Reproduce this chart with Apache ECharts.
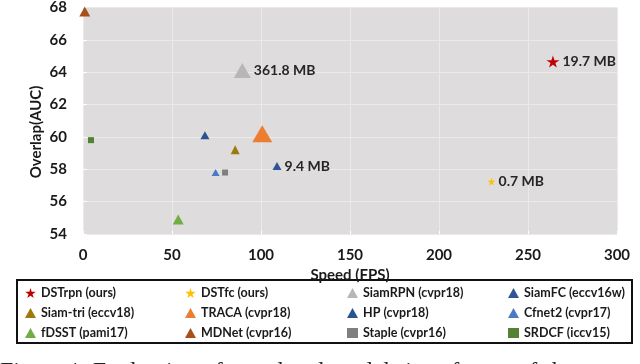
<!DOCTYPE html>
<html>
<head>
<meta charset="utf-8">
<script src="https://cdn.jsdelivr.net/npm/echarts@6/dist/echarts.min.js"></script>
<style>
  html, body { margin: 0; padding: 0; background: #fff; }
  #chart { width: 640px; height: 364px; }
</style>
</head>
<body>
<div id="chart"></div>
<script>
// trackers, speed (FPS), overlap (AUC), model size label
const methods = ['DSTrpn (ours)', 'DSTfc (ours)', 'SiamRPN (cvpr18)', 'SiamFC (eccv16w)',
  'Siam-tri (eccv18)', 'TRACA (cvpr18)', 'HP (cvpr18)', 'Cfnet2 (cvpr17)',
  'fDSST (pami17)', 'MDNet (cvpr16)', 'Staple (cvpr16)', 'SRDCF (iccv15)']
const speed = [264, 229.5, 89.5, 109, 85.5, 100.7, 68.5, 74.5, 53.5, 1, 79.8, 4.5]
const overlap = [64.66, 57.24, 64.1, 58.2, 59.2, 60.2, 60.1, 57.8, 54.9, 67.75, 57.8, 59.8]
const sizeLabels = ['19.7 MB', '0.7 MB', '361.8 MB', '9.4 MB', '', '', '', '', '', '', '', '']
const xTicks = [0, 50, 100, 150, 200, 250, 300]
const yTicks = [54, 56, 58, 60, 62, 64, 66, 68]

const STAR = 'path://M50,0 L61,35 L98,35 L68,57 L79,91 L50,70 L21,91 L32,57 L2,35 L39,35 Z'
// marker look per tracker
const symbols = [STAR, STAR, 'triangle', 'triangle', 'triangle', 'triangle', 'triangle', 'triangle',
  'triangle', 'triangle', 'rect', 'rect']
const sizes = [[13, 12], [8, 8], [17, 15], [9, 8], [9, 9], [20, 17], [9, 8], [8, 7], [11, 10], [11, 10], [6, 6], [6, 6]]
const colors = ['#c00000', '#ffc000', '#b7b7b7', '#2f5597', '#9c7a0e', '#ed7d31', '#2a5394', '#4a78c8',
  '#70ad47', '#a9501a', '#7f7f7f', '#548235']

const font = 'Lato, "Open Sans", sans-serif'

const series = methods.map(function(name, i) {
  return {
    name: name,
    type: 'scatter',
    clip: false,
    symbol: symbols[i],
    symbolSize: sizes[i],
    itemStyle: { color: colors[i], opacity: 1 },
    label: {
      show: sizeLabels[i] !== '',
      position: 'right',
      distance: 3,
      formatter: sizeLabels[i],
      fontFamily: font,
      fontWeight: 'bold',
      fontSize: 14,
      color: '#262626'
    },
    emphasis: { disabled: true },
    data: [[speed[i], overlap[i]]]
  }
})

// legend columns (row-major in the picture)
const legendLeft = [25, 185, 347, 508]
const legends = legendLeft.map(function(left, c) {
  return {
    orient: 'vertical',
    left: left,
    top: 285,
    itemWidth: 11,
    itemHeight: 10,
    itemGap: 4,
    padding: 0,
    selectedMode: false,
    textStyle: { fontFamily: font, fontWeight: 'bold', fontSize: 12.5, color: '#1a1a1a', lineHeight: 16 },
    data: [methods[c], methods[c + 4], methods[c + 8]]
  }
})

const chart = echarts.init(document.getElementById('chart'), null, { renderer: 'canvas' })
chart.setOption({
  animation: false,
  grid: {
    left: 83, right: 23, top: 7, bottom: 130,
    show: true,
    backgroundColor: '#dedcdd',
    borderWidth: 0
  },
  xAxis: {
    type: 'value',
    min: xTicks[0],
    max: xTicks[xTicks.length - 1],
    interval: 50,
    name: 'Speed (FPS)',
    nameLocation: 'middle',
    nameGap: 27,
    nameTextStyle: { fontFamily: font, fontWeight: 'bold', fontSize: 15, color: '#1a1a1a' },
    axisLine: { show: false },
    axisTick: { show: true, inside: true, length: 3, lineStyle: { color: '#ffffff', width: 1 } },
    axisLabel: { margin: 14, fontFamily: font, fontWeight: 'bold', fontSize: 15, color: '#1a1a1a' },
    splitLine: { show: true, lineStyle: { color: '#ebe9ea', width: 1 } }
  },
  yAxis: {
    type: 'value',
    min: yTicks[0],
    max: yTicks[yTicks.length - 1],
    interval: 2,
    axisLine: { show: false },
    axisTick: { show: true, inside: true, length: 4, lineStyle: { color: '#ffffff', width: 1 } },
    axisLabel: { margin: 16, fontFamily: font, fontWeight: 'bold', fontSize: 15, color: '#1a1a1a' },
    splitLine: { show: true, lineStyle: { color: '#ebe9ea', width: 1 } }
  },
  legend: legends,
  graphic: [
    {
      type: 'rect',
      z: 0,
      shape: { x: 17, y: 280, width: 615, height: 63 },
      style: { fill: 'none', stroke: '#111', lineWidth: 2 }
    },
    {
      type: 'text',
      x: 36, y: 132,
      rotation: Math.PI / 2,
      style: {
        text: 'Overlap(AUC)',
        fontFamily: font, fontWeight: 'bold', fontSize: 15, fill: '#1a1a1a',
        textAlign: 'center', textVerticalAlign: 'middle'
      }
    },
    {
      type: 'text',
      x: 0, y: 360,
      style: {
        text: 'Figure 1. Evaluation of speed and model size of state-of-the-art',
        fontFamily: '"Liberation Serif", serif', fontSize: 24, fill: '#222',
        textAlign: 'left', textVerticalAlign: 'top'
      }
    }
  ],
  series: series
})
</script>
</body>
</html>
